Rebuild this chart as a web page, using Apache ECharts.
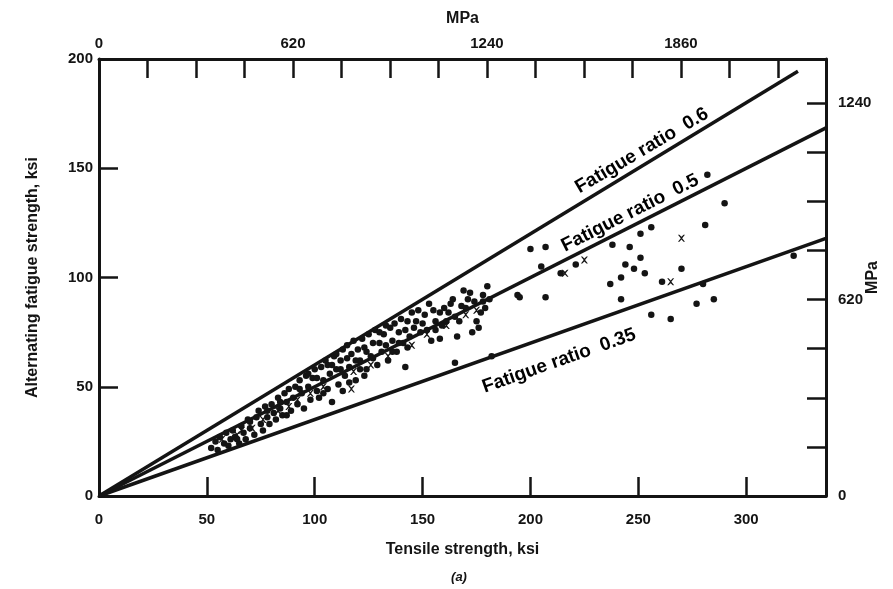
<!DOCTYPE html>
<html><head><meta charset="utf-8">
<script src="https://cdn.jsdelivr.net/npm/echarts@6/dist/echarts.min.js"></script>
<style>html,body{margin:0;padding:0;background:#fff}#c{width:893px;height:589px}</style>
</head><body><div id="c"></div>
<script>
// ---------- data ----------
const KSI_TO_MPA = 6.895;
const tensileMaxKsi = 337;
const fatigueMaxKsi = 200;
const mpaLabelValues = [0, 620, 1240, 1860];
const mpaTickStep = 155;
const ratioValues = [0.6, 0.5, 0.35];
const ratioLineEndKsi = [324, 337, 337];
const ratioLabelTexts = ['Fatigue ratio  0.6', 'Fatigue ratio  0.5', 'Fatigue ratio  0.35'];
// [tensile ksi, fatigue ksi]
const dotPoints = [
 [52,22],[54,25],[55,21],[56,27],[58,24],[59,29],[60,23],[61,26],
 [62,30],[63,27],[65,24],[66,32],[67,29],[68,26],[69,35],[70,31],
 [72,28],[73,36],[74,39],[75,33],[76,30],[77,41],[78,36],[79,33],[80,42],[81,38],
 [82,35],[83,45],[84,40],[85,37],[86,47],[87,43],[88,49],[89,39],[90,45],[91,50],
 [92,42],[93,53],[94,47],[95,40],[96,55],[97,50],[98,44],[99,54],[100,58],[101,48],
 [102,45],[103,59],[104,53],[105,62],[106,49],[107,56],[108,43],[109,64],[110,58],[111,51],
 [106,60],[104,47],[112,62],[113,67],[114,55],[115,69],[116,59],[117,65],[118,71],[119,53],[120,67],[121,62],
 [113,48],[122,72],[123,68],[124,58],[125,74],[126,64],[127,70],[128,76],[129,60],[130,70],[131,66],[123,55],
 [132,74],[133,69],[134,62],[135,77],[136,71],[137,79],[138,66],[139,75],[140,81],[141,70],
 [142,76],[143,80],[144,73],[145,84],[146,77],[148,85],[149,75],[150,79],
 [142,59],[153,88],[154,71],[156,80],[158,84],[158,72],[160,86],[161,80],[156,76],
 [163,88],[165,82],[166,73],[168,87],[169,94],[171,90],
 [173,75],[174,89],[176,77],[178,92],[179,86],[180,96],[181,90],[177,84],
 [165,61],[182,64],
 [108,60],[110,65],[112,58],[115,63],[116,52],[119,62],[121,58],[124,66],[127,63],[130,75],
 [133,78],[136,66],[139,70],[143,68],[147,80],[151,83],[152,76],[155,85],[159,78],[162,84],
 [164,90],[167,80],[170,86],[172,93],[175,80],[178,89],[84,43],[87,37],[93,49],[97,56],
 [101,54],[78,39],[70,34],[64,26],
 [194,92],[200,113],[207,114],[205,105],[195,91],[207,91],[214,102],[221,106],
 [238,115],[246,114],[251,120],[256,123],[251,109],[244,106],[248,104],[253,102],[242,100],[237,97],
 [261,98],[270,104],[280,97],[242,90],[256,83],[265,81],[277,88],[285,90],[281,124],[290,134],[282,147],[322,110]
];
const crossPoints = [
 [57,26],[64,28],[71,31],[76,35],[83,39],[92,44],[98,47],[104,50],[118,57],[126,60],
 [134,64],[145,69],[152,74],[161,78],[170,83],[175,85],[216,102],[225,108],[265,98],[270,118],
 [117,49],[66,30],[88,41]
];

// ---------- chart ----------
const ink = '#141414';
const fontFam = '"Liberation Sans", Arial, sans-serif';
const lblStyle = {color: ink, fontSize: 15, fontWeight: 'bold', fontFamily: fontFam};
const nameStyle = {color: ink, fontSize: 16, fontWeight: 'bold', fontFamily: fontFam};
const axisLine = {show: true, onZero: false, lineStyle: {color: ink, width: 3}};
const axisTick = {show: true, inside: true, length: 19, lineStyle: {color: ink, width: 2.5}};
const mpaFmt = v => mpaLabelValues.some(m => Math.abs(m - v) < 1e-6) ? String(Math.round(v)) : '';

const ratioLabelPos = [[251.7, 158.0], [246.2, 129.5], [213.3, 61.8]];
const ratioLabelRot = [30.5, 26.8, 19.5];

const chart = echarts.init(document.getElementById('c'), null, {renderer: 'canvas'});
chart.setOption({
  animation: false,
  backgroundColor: '#fff',
  grid: {left: 99, right: 67, top: 59, bottom: 93, outerBoundsMode: 'none', containLabel: false},
  xAxis: [
    {type: 'value', position: 'bottom', min: 0, max: tensileMaxKsi, interval: 50,
     axisLine, axisTick, splitLine: {show: false},
     axisLabel: Object.assign({margin: 16, showMaxLabel: false,
        formatter: v => (v % 50 === 0 ? String(v) : '')}, lblStyle),
     name: 'Tensile strength, ksi', nameLocation: 'middle', nameGap: 46, nameMoveOverlap: false,
     nameTextStyle: nameStyle},
    {type: 'value', position: 'top', min: 0, max: tensileMaxKsi * KSI_TO_MPA, interval: mpaTickStep,
     axisLine, axisTick, splitLine: {show: false},
     axisLabel: Object.assign({margin: 8, formatter: mpaFmt}, lblStyle),
     name: 'MPa', nameLocation: 'middle', nameGap: 32, nameMoveOverlap: false, nameTextStyle: nameStyle}
  ],
  yAxis: [
    {type: 'value', position: 'left', min: 0, max: fatigueMaxKsi, interval: 50,
     axisLine, axisTick, splitLine: {show: false},
     axisLabel: Object.assign({margin: 6}, lblStyle),
     name: 'Alternating fatigue strength, ksi', nameLocation: 'middle', nameGap: 58, nameRotate: 90,
     nameMoveOverlap: false, nameTextStyle: nameStyle},
    {type: 'value', position: 'right', min: 0, max: fatigueMaxKsi * KSI_TO_MPA, interval: mpaTickStep,
     axisLine, axisTick, splitLine: {show: false},
     axisLabel: Object.assign({margin: 12, formatter: mpaFmt}, lblStyle),
     name: 'MPa', nameLocation: 'middle', nameGap: 39, nameRotate: 90, nameMoveOverlap: false,
     nameTextStyle: nameStyle}
  ],
  series: [
    ...ratioValues.map((r, i) => ({
      type: 'line', xAxisIndex: 0, yAxisIndex: 0, silent: true, symbol: 'none',
      lineStyle: {color: ink, width: 3.5},
      data: [[0, 0], [ratioLineEndKsi[i], r * ratioLineEndKsi[i]]], z: 3
    })),
    {type: 'scatter', xAxisIndex: 0, yAxisIndex: 0, symbol: 'circle', symbolSize: 6.5,
     itemStyle: {color: ink, opacity: 1}, data: dotPoints, z: 4},
    {type: 'scatter', xAxisIndex: 0, yAxisIndex: 0,
     symbol: 'path://M0,0L2,0L5,3L8,0L10,0L6,5L10,10L8,10L5,7L2,10L0,10L4,5Z', symbolSize: 7,
     itemStyle: {color: ink, opacity: 1}, data: crossPoints, z: 4},
    {type: 'scatter', xAxisIndex: 0, yAxisIndex: 0, symbolSize: 0, silent: true, z: 5,
     itemStyle: {opacity: 1},
     data: ratioLabelTexts.map((t, i) => ({
       value: ratioLabelPos[i], name: t,
       label: {show: true, position: 'inside', rotate: ratioLabelRot[i], formatter: t, opacity: 1,
         align: 'center', verticalAlign: 'middle', color: '#000', fontSize: 19, fontWeight: 'bold', fontFamily: fontFam}
     }))}
  ],
  graphic: [
    {type: 'text', x: 459, y: 577, style: {text: '(a)', fill: ink, fontSize: 13, fontWeight: 'bold',
      fontStyle: 'italic', fontFamily: fontFam, textAlign: 'center', textVerticalAlign: 'middle'}}
  ]
});
</script>
</body></html>
